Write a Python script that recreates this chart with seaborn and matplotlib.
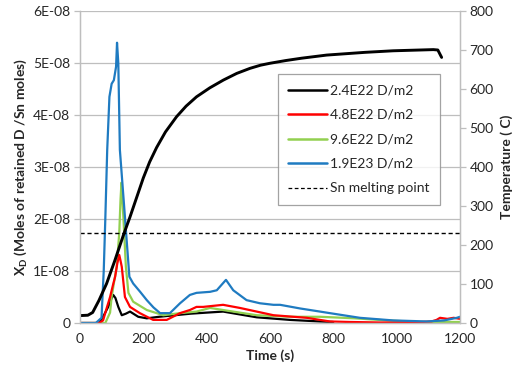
import matplotlib
matplotlib.use("Agg")
import matplotlib.pyplot as plt
import seaborn as sns
from matplotlib.lines import Line2D

# ---------------- data ----------------
# retained D, in units of 1E-08
black_t = [0, 60, 73, 89, 100, 105, 112, 121, 132, 145, 158, 184, 211, 250, 300, 350, 400, 452, 500, 558, 663, 758, 800]
black_v = [0, 0, 0.12, 0.31, 0.48, 0.54, 0.48, 0.31, 0.15, 0.18, 0.22, 0.12, 0.09, 0.12, 0.15, 0.18, 0.2, 0.22, 0.17, 0.11, 0.06, 0.03, 0.02]

red_t = [0, 60, 73, 85, 95, 105, 111, 118, 124, 128, 132, 142, 158, 189, 231, 274, 316, 347, 368, 389, 452, 505, 611, 716, 789, 850, 950, 1050, 1110, 1126, 1137, 1160, 1180, 1200]
red_v = [0, 0, 0.05, 0.3, 0.5, 0.75, 0.89, 1.15, 1.31, 1.2, 1.08, 0.5, 0.31, 0.19, 0.06, 0.06, 0.19, 0.25, 0.31, 0.31, 0.35, 0.29, 0.15, 0.1, 0.03, 0.02, 0.01, 0.01, 0.03, 0.06, 0.1, 0.08, 0.1, 0.08]

green_t = [0, 80, 95, 100, 108, 116, 124, 128, 131, 137, 145, 153, 168, 211, 263, 316, 368, 411, 452, 558, 663, 758, 868, 968, 1074, 1200]
green_v = [0, 0, 0.2, 0.5, 0.8, 1.08, 1.73, 2.37, 2.7, 2.04, 1.08, 0.58, 0.41, 0.25, 0.15, 0.19, 0.22, 0.29, 0.25, 0.15, 0.12, 0.12, 0.09, 0.05, 0.02, 0.02]

blue_t = [0, 50, 68, 75, 80, 86, 93, 100, 107, 114, 117, 121, 126, 140, 156, 168, 190, 211, 232, 253, 284, 316, 347, 368, 411, 432, 461, 484, 526, 568, 611, 632, 695, 758, 789, 884, 989, 1095, 1150, 1190, 1200]
blue_v = [0, 0, 0.1, 1.0, 2.0, 3.33, 4.35, 4.6, 4.67, 4.93, 5.39, 5.0, 3.33, 2.2, 0.89, 0.76, 0.6, 0.44, 0.3, 0.19, 0.19, 0.38, 0.54, 0.58, 0.6, 0.63, 0.83, 0.63, 0.44, 0.38, 0.35, 0.35, 0.28, 0.22, 0.19, 0.1, 0.05, 0.03, 0.05, 0.1, 0.12]

temp_t = [0, 25, 40, 60, 84, 110, 137, 158, 200, 220, 242, 270, 305, 335, 368, 410, 453, 495, 537, 570, 600, 650, 700, 779, 900, 989, 1116, 1130, 1142]
temp_v = [19, 20, 27, 58, 101, 160, 225, 272, 372, 413, 450, 490, 529, 556, 580, 603, 623, 640, 653, 661, 666, 673, 679, 687, 694, 698, 701, 700, 681]

melting_point = 232

series_labels = ["2.4E22 D/m2", "4.8E22 D/m2", "9.6E22 D/m2", "1.9E23 D/m2"]
melt_label = "Sn melting point"

x_ticks = [0, 200, 400, 600, 800, 1000, 1200]
y_ticks = [0, 1, 2, 3, 4, 5, 6]
y_tick_labels = ["0", "1E-08", "2E-08", "3E-08", "4E-08", "5E-08", "6E-08"]
t_ticks = [0, 100, 200, 300, 400, 500, 600, 700, 800]

# ---------------- style ----------------
sns.set_theme(style="white")
plt.rcParams['font.family'] = ['Lato', 'DejaVu Sans']
plt.rcParams['mathtext.fontset'] = 'custom'
plt.rcParams['mathtext.rm'] = 'Lato'
plt.rcParams['mathtext.bf'] = 'Lato:bold'

c_black = "#000000"
c_red = "#FF0000"
c_green = "#92D050"
c_blue = "#1F7BC1"
grid_c = "#BEBEBE"
fs = 10

fig = plt.figure(figsize=(5.2, 3.73), dpi=100)
ax = fig.add_axes([0.1538, 0.134, 0.7308, 0.8365])
ax2 = ax.twinx()

lw = 1.6
sns.lineplot(x=black_t, y=black_v, ax=ax, color=c_black, lw=lw)
sns.lineplot(x=green_t, y=green_v, ax=ax, color=c_green, lw=lw)
sns.lineplot(x=red_t, y=red_v, ax=ax, color=c_red, lw=lw)
sns.lineplot(x=blue_t, y=blue_v, ax=ax, color=c_blue, lw=lw)

sns.lineplot(x=temp_t, y=temp_v, ax=ax2, color=c_black, lw=2.1)
ax2.axhline(melting_point, color=c_black, lw=1.0, ls=(0, (3, 2)))

ax.set_xlim(0, 1200)
ax.set_ylim(0, 6)
ax2.set_ylim(0, 800)

ax.set_xticks(x_ticks)
ax.set_xticklabels([str(v) for v in x_ticks], fontsize=fs)
ax.set_yticks(y_ticks)
ax.set_yticklabels(y_tick_labels, fontsize=fs)
ax2.set_yticks(t_ticks)
ax2.set_yticklabels([str(v) for v in t_ticks], fontsize=fs)

ax.yaxis.grid(True, color=grid_c, lw=0.9)
ax.xaxis.grid(False)
ax2.grid(False)
ax.set_axisbelow(True)

for a in (ax, ax2):
    a.spines["top"].set_visible(False)
    for s in ("left", "right", "bottom"):
        a.spines[s].set_color(grid_c)
        a.spines[s].set_linewidth(0.9)
    a.tick_params(axis="both", direction="out", length=4, width=0.9,
                  color=grid_c, labelcolor="#262626", pad=3)

ax.set_xlabel("Time (s)", fontsize=fs, fontweight="bold", labelpad=3)
ax.set_ylabel(r"X$_\mathbf{D}$ (Moles of retained D /Sn moles)", fontsize=fs,
              fontweight="bold", labelpad=3)
ax2.set_ylabel("Temperature ( C)", fontsize=fs, fontweight="bold", labelpad=5)

handles = [Line2D([], [], color=c_black, lw=1.8),
           Line2D([], [], color=c_red, lw=1.8),
           Line2D([], [], color=c_green, lw=1.8),
           Line2D([], [], color=c_blue, lw=1.8),
           Line2D([], [], color=c_black, lw=0.9, ls=(0, (3, 2)))]
leg = ax2.legend(handles, series_labels + [melt_label], loc="upper right",
                 bbox_to_anchor=(0.947, 0.798), fontsize=fs, frameon=True,
                 fancybox=False, edgecolor="#8C8C8C", handlelength=2.8,
                 handletextpad=0.2, labelspacing=0.9, borderpad=0.75,
                 borderaxespad=0)
leg.get_frame().set_linewidth(0.9)

fig.savefig("out.png", dpi=100)
